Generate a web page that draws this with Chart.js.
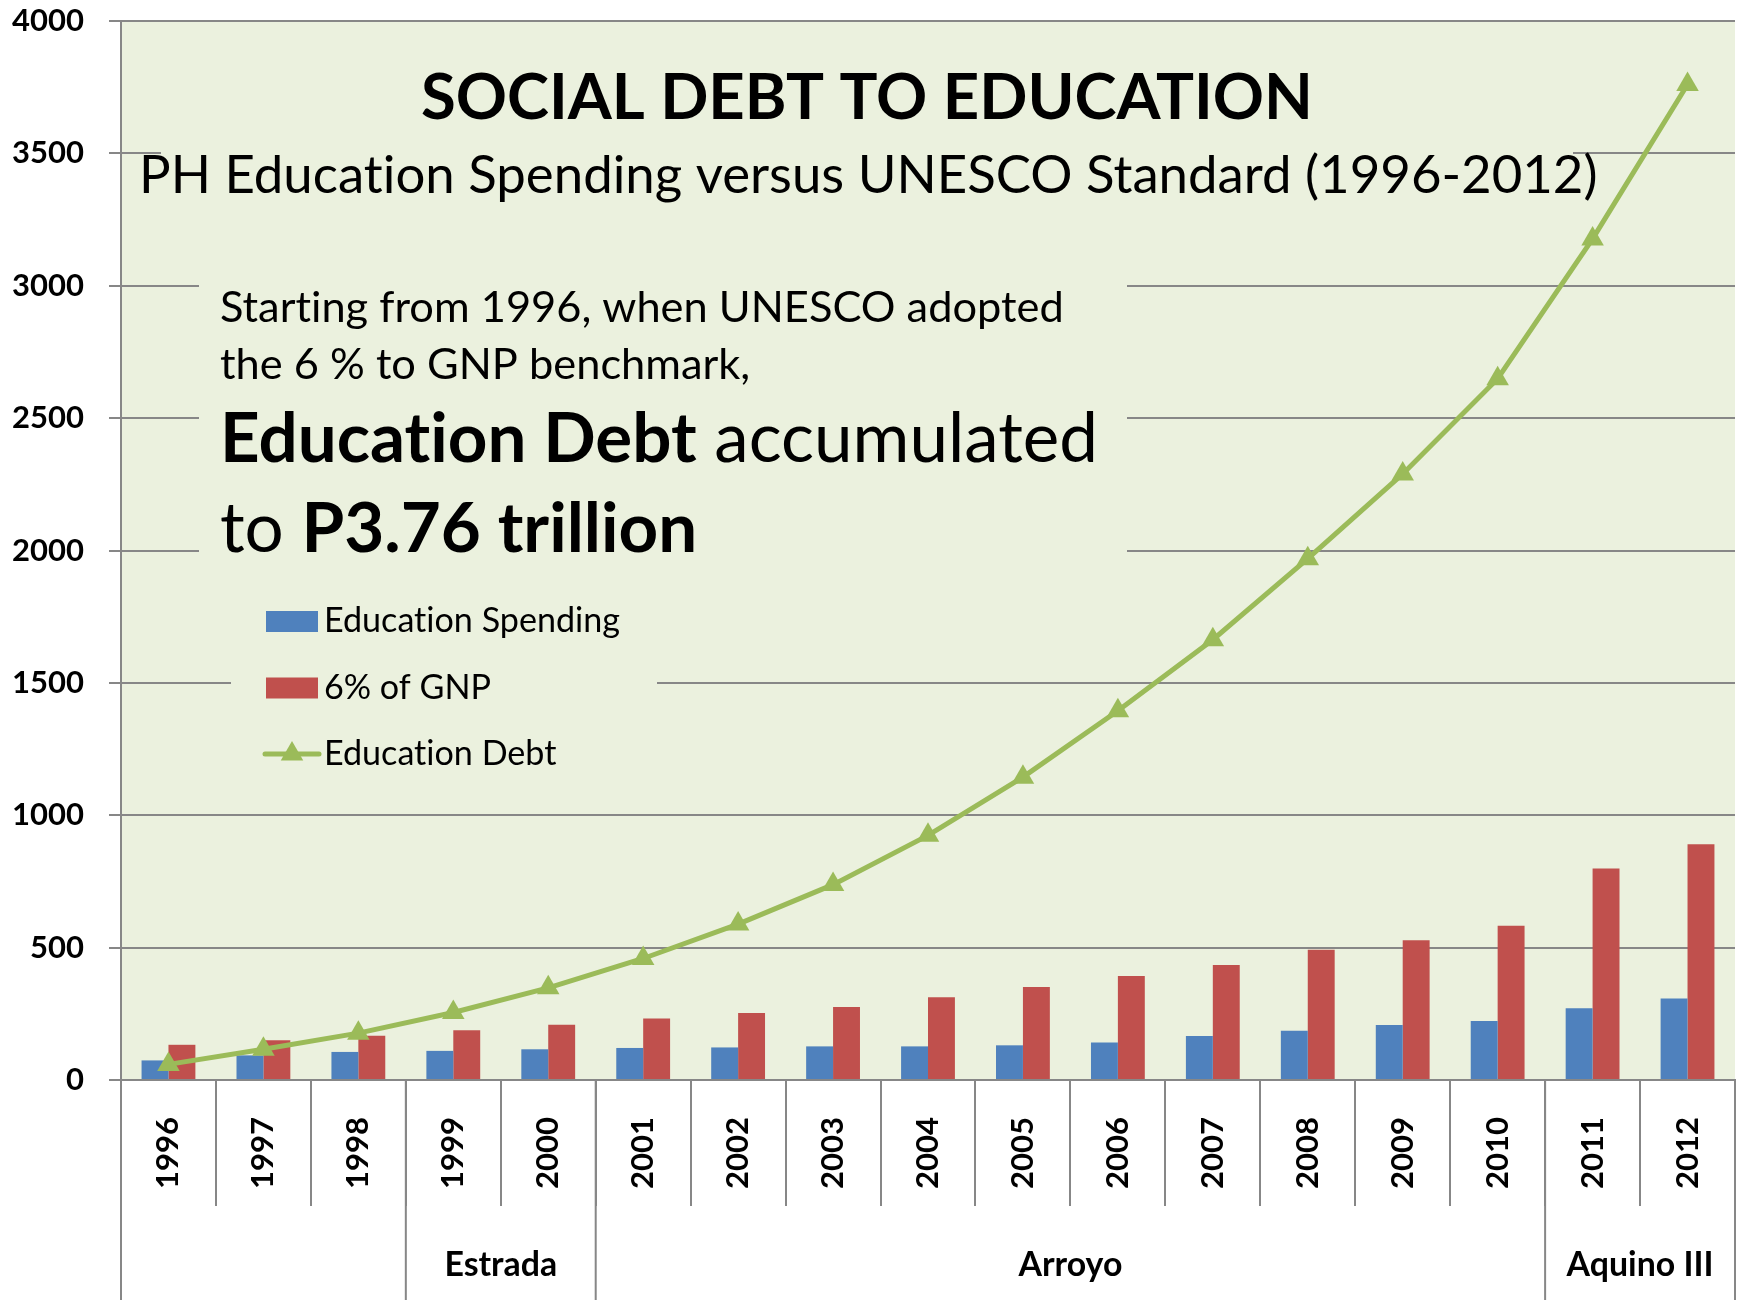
<!doctype html>
<html lang="en">
<head>
<meta charset="utf-8">
<title>Social Debt to Education</title>
<script src="https://cdn.jsdelivr.net/npm/chart.js@4.4.1/dist/chart.umd.min.js"></script>
<style>
  * { margin: 0; padding: 0; box-sizing: border-box; }
  body { background: #fff; }
  #chartbox { width: 1738px; height: 1300px; }
</style>
</head>
<body>
<div id="chartbox"><canvas id="debtChart" width="1738" height="1300"></canvas></div>
<script>
// values in billion pesos
const years = ['1996','1997','1998','1999','2000','2001','2002','2003','2004','2005','2006','2007','2008','2009','2010','2011','2012'];
const educationSpending = [74, 93, 106, 110, 116, 121, 123, 127, 127, 131, 142, 166, 186, 208, 223, 271, 308];
const sixPercentGnp = [133, 150, 167, 188, 209, 232, 253, 276, 313, 351, 393, 434, 492, 528, 583, 799, 890];
const educationDebt = [59, 116, 177, 255, 348, 459, 589, 738, 924, 1144, 1395, 1663, 1969, 2289, 2649, 3177, 3760];
const yTicks = [0, 500, 1000, 1500, 2000, 2500, 3000, 3500, 4000];
const presidents = ['', 'Estrada', 'Arroyo', 'Aquino III'];
const termStarts = ['1996', '1999', '2001', '2011'];

const FONT = 'Lato';
const plotBg = '#EBF1DE';
const axisGrey = '#878787';
const blue = '#4F81BD';
const red = '#C0504D';
const green = '#9BBB59';

const debtTotal = 'P' + (educationDebt[educationDebt.length - 1] / 1000).toFixed(2) + ' trillion';

// text boxes inside the plot, they hide the gridlines behind them
const textBoxes = [
  { x: 161, y: 32, w: 1412, h: 185 },
  { x: 199, y: 235, w: 928, h: 360 },
  { x: 231, y: 592, w: 426, h: 200 }
];

const textLines = [
  { parts: [{ text: 'SOCIAL DEBT TO EDUCATION', bold: true }], x: 421, y: 119, width: 892 },
  { parts: [{ text: 'PH Education Spending versus UNESCO Standard (1996-2012)' }], x: 139, y: 193, width: 1459 },
  { parts: [{ text: 'Starting from 1996, when UNESCO adopted' }], x: 220, y: 322, width: 844, key: 'note' },
  { parts: [{ text: 'the 6 % to GNP benchmark,' }], x: 220, y: 379, sizeFrom: 'note' },
  { parts: [{ text: 'Education Debt', bold: true }, { text: ' accumulated' }], x: 220, y: 462, width: 878, key: 'big' },
  { parts: [{ text: 'to ' }, { text: debtTotal, bold: true }], x: 220, y: 552, sizeFrom: 'big' }
];

function font(size, bold) {
  return (bold ? 'bold ' : '') + size + 'px ' + FONT;
}

// font size that makes the parts span the given width
function fitSize(ctx, parts, width) {
  let w = 0;
  parts.forEach(p => {
    ctx.font = font(100, p.bold);
    w += ctx.measureText(p.text).width;
  });
  return 100 * width / w;
}

function drawLegend(chart) {
  const ctx = chart.ctx;
  const size = fitSize(ctx, [{ text: 'Education Spending' }], 296);
  const swatchX = 266, swatchW = 52, textX = 324;
  chart.data.datasets.forEach((ds, i) => {
    const base = 632 + i * 66.5;
    if (ds.type === 'line') {
      const cy = base - 11;
      ctx.strokeStyle = ds.borderColor;
      ctx.lineWidth = ds.borderWidth;
      ctx.lineCap = 'round';
      ctx.beginPath();
      ctx.moveTo(swatchX - 1, cy);
      ctx.lineTo(swatchX + swatchW + 1, cy);
      ctx.stroke();
      ctx.fillStyle = ds.pointBackgroundColor;
      Chart.helpers.drawPoint(ctx, { pointStyle: 'triangle', radius: ds.pointRadius, borderWidth: 0, rotation: 0 }, swatchX + swatchW / 2, cy);
    } else {
      ctx.fillStyle = ds.backgroundColor;
      ctx.fillRect(swatchX, base - 21, swatchW, 21);
    }
    ctx.fillStyle = '#000';
    ctx.font = font(size, false);
    ctx.fillText(ds.label, textX, base);
  });
}

const overlay = {
  id: 'overlay',
  beforeDraw(chart) {
    const { ctx, chartArea: a } = chart;
    ctx.save();
    ctx.fillStyle = '#fff';
    ctx.fillRect(0, 0, chart.width, chart.height);
    ctx.fillStyle = plotBg;
    ctx.fillRect(a.left, a.top, a.right - a.left, a.bottom - a.top);
    ctx.restore();
  },
  beforeDatasetsDraw(chart) {
    const ctx = chart.ctx;
    ctx.save();
    ctx.fillStyle = plotBg;
    textBoxes.forEach(b => ctx.fillRect(b.x, b.y, b.w, b.h));

    // no "ti" ligature in Education
    ctx.textRendering = 'optimizeSpeed';
    ctx.textAlign = 'left';
    ctx.textBaseline = 'alphabetic';
    const sizes = {};
    textLines.forEach(line => {
      const size = line.sizeFrom ? sizes[line.sizeFrom] : fitSize(ctx, line.parts, line.width);
      if (line.key) sizes[line.key] = size;
      let x = line.x;
      ctx.fillStyle = '#000';
      line.parts.forEach(p => {
        ctx.font = font(size, p.bold);
        ctx.fillText(p.text, x, line.y);
        x += ctx.measureText(p.text).width;
      });
    });
    drawLegend(chart);
    ctx.restore();
  },
  afterDraw(chart) {
    // president terms under the year labels
    const { ctx, chartArea: a } = chart;
    const x = chart.scales.x;
    const half = (x.getPixelForValue(1) - x.getPixelForValue(0)) / 2;
    const edges = termStarts.map(y => x.getPixelForValue(years.indexOf(y)) - half);
    edges.push(x.getPixelForValue(years.length - 1) + half);
    ctx.save();
    ctx.strokeStyle = axisGrey;
    ctx.lineWidth = 2;
    ctx.beginPath();
    edges.forEach(e => {
      ctx.moveTo(e, a.bottom);
      ctx.lineTo(e, chart.height);
    });
    ctx.stroke();
    const size = fitSize(ctx, [{ text: 'Aquino III', bold: true }], 147);
    ctx.font = font(size, true);
    ctx.fillStyle = '#000';
    ctx.textAlign = 'center';
    ctx.textBaseline = 'alphabetic';
    presidents.forEach((name, i) => {
      ctx.fillText(name, (edges[i] + edges[i + 1]) / 2, 1276);
    });
    ctx.restore();
  }
};

const tickFont = { family: FONT, size: 31, weight: 'bold' };

new Chart(document.getElementById('debtChart'), {
  type: 'bar',
  data: {
    labels: years,
    datasets: [
      {
        label: 'Education Spending',
        data: educationSpending,
        backgroundColor: blue,
        categoryPercentage: 0.567,
        barPercentage: 1,
        order: 1
      },
      {
        label: '6% of GNP',
        data: sixPercentGnp,
        backgroundColor: red,
        categoryPercentage: 0.567,
        barPercentage: 1,
        order: 1
      },
      {
        type: 'line',
        label: 'Education Debt',
        data: educationDebt,
        borderColor: green,
        backgroundColor: green,
        borderWidth: 5,
        tension: 0,
        pointStyle: 'triangle',
        pointRadius: 13,
        pointHoverRadius: 13,
        pointBackgroundColor: green,
        pointBorderWidth: 0,
        order: 0
      }
    ]
  },
  options: {
    responsive: false,
    animation: false,
    events: [],
    layout: { autoPadding: false, padding: { top: 21, right: 3, left: 0, bottom: 0 } },
    plugins: {
      legend: { display: false },
      tooltip: { enabled: false }
    },
    scales: {
      x: {
        offset: true,
        grid: { offset: true, drawOnChartArea: false, tickLength: 126, color: axisGrey, lineWidth: 2 },
        border: { color: axisGrey, width: 2 },
        ticks: { autoSkip: false, minRotation: 90, maxRotation: 90, padding: -89, color: '#000', font: tickFont },
        afterFit: s => {
          s.height = 220;
          s.paddingLeft = 0;
          s.paddingRight = 0;
        }
      },
      y: {
        min: yTicks[0],
        max: yTicks[yTicks.length - 1],
        afterBuildTicks: s => { s.ticks = yTicks.map(v => ({ value: v })); },
        grid: { color: axisGrey, lineWidth: 2, tickLength: 12 },
        border: { color: axisGrey, width: 2 },
        ticks: { padding: 25, color: '#000', font: tickFont, callback: v => String(v) },
        afterFit: s => {
          s.width = 121;
          s.paddingTop = 0;
          s.paddingBottom = 0;
        }
      }
    }
  },
  plugins: [overlay]
});
</script>
</body>
</html>
